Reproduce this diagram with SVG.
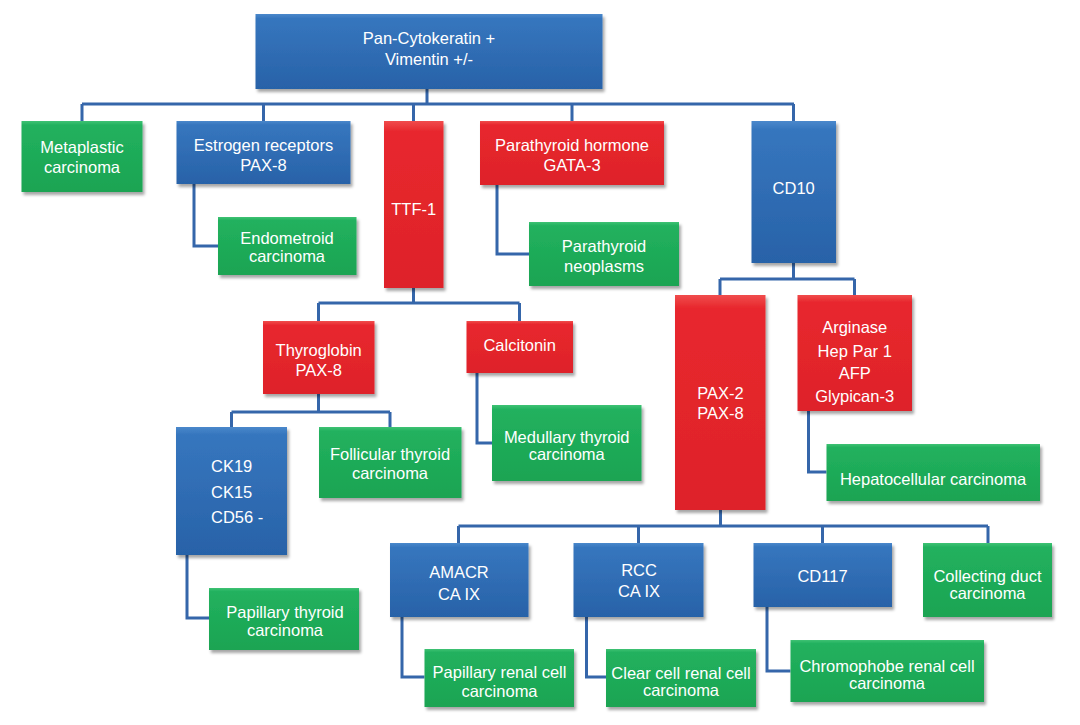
<svg xmlns="http://www.w3.org/2000/svg" width="1080" height="725" viewBox="0 0 1080 725">
<style>
.n rect{filter:url(#sh)}
.blue rect{fill:url(#gb)}
.red rect{fill:url(#gr)}
.green rect{fill:url(#gg)}
.hl{fill:none;stroke:#ffffff;stroke-opacity:0.28;stroke-width:2}
text{font-family:"Liberation Sans",Arial,Helvetica,sans-serif;font-size:16.5px;fill:#ffffff;text-anchor:middle}
.c path{fill:none;stroke:#3566AA;stroke-width:3;stroke-linejoin:miter;stroke-linecap:butt}
</style>
<defs>
<filter id="sh" x="-10%" y="-10%" width="125%" height="130%">
<feDropShadow dx="2" dy="3" stdDeviation="1.8" flood-color="#000" flood-opacity="0.35"/>
</filter>
<linearGradient id="gb" x1="0" y1="0" x2="0" y2="1">
<stop offset="0" stop-color="#4A88CB"/>
<stop offset="0.06" stop-color="#3676BE"/>
<stop offset="1" stop-color="#2862A8"/>
</linearGradient>
<linearGradient id="gr" x1="0" y1="0" x2="0" y2="1">
<stop offset="0" stop-color="#F04C4C"/>
<stop offset="0.06" stop-color="#E8282E"/>
<stop offset="1" stop-color="#DE2229"/>
</linearGradient>
<linearGradient id="gg" x1="0" y1="0" x2="0" y2="1">
<stop offset="0" stop-color="#3EC274"/>
<stop offset="0.06" stop-color="#22B15E"/>
<stop offset="1" stop-color="#1AA452"/>
</linearGradient>
</defs>
<rect width="1080" height="725" fill="#ffffff"/>

<g class="c" id="connectors">
<path d="M427 89V104M82 104H794M82 104V121M263.5 104V121M413.5 104V121M572 104V121M793.5 104V121"/>
<path d="M194 184V246H218"/>
<path d="M497 185V254H529"/>
<path d="M413.5 288V303M318.5 303H519.5M318.5 303V321M519.5 303V321"/>
<path d="M318.5 394V412M231.5 412H390M231.5 412V427M390 412V427"/>
<path d="M477 373V443H492"/>
<path d="M187 555V618H209"/>
<path d="M793.5 263V279M720 279H854.5M720 279V295M854.5 279V295"/>
<path d="M808.5 411V472H826.5"/>
<path d="M720.5 510V526M458.5 526H988M458.5 526V543M638.5 526V543M822.5 526V543M988 526V543"/>
<path d="M402 617V677H424.5"/>
<path d="M586.5 617V677H606"/>
<path d="M767 607V671H790.5"/>
</g>

<g id="root" class="n blue"><rect x="255.5" y="14" width="347" height="75"/><text x="429" y="44">Pan-Cytokeratin +</text><text x="429" y="65">Vimentin +/-</text></g>
<g id="metaplastic" class="n green"><rect x="21.5" y="121" width="121" height="71"/><text x="82" y="153">Metaplastic</text><text x="82" y="173">carcinoma</text></g>
<g id="estrogen" class="n blue"><rect x="176.5" y="121" width="174" height="63"/><text x="263.5" y="151">Estrogen receptors</text><text x="263.5" y="171">PAX-8</text></g>
<g id="ttf1" class="n red"><rect x="384" y="121" width="59.5" height="167"/><text x="413.7" y="215">TTF-1</text></g>
<g id="parathyroid-hormone" class="n red"><rect x="480" y="121" width="184" height="64"/><text x="572" y="151">Parathyroid hormone</text><text x="572" y="171">GATA-3</text></g>
<g id="cd10" class="n blue"><rect x="751.5" y="121" width="84.5" height="142"/><text x="793.7" y="194">CD10</text></g>
<g id="endometroid" class="n green"><rect x="218" y="217" width="138.5" height="58"/><text x="287" y="244">Endometroid</text><text x="287" y="262">carcinoma</text></g>
<g id="parathyroid-neoplasms" class="n green"><rect x="529" y="222" width="150" height="64"/><text x="604" y="252">Parathyroid</text><text x="604" y="272">neoplasms</text></g>
<g id="thyroglobin" class="n red"><rect x="263" y="321" width="111.5" height="73"/><text x="318.7" y="356">Thyroglobin</text><text x="318.7" y="376">PAX-8</text></g>
<g id="calcitonin" class="n red"><rect x="466.5" y="321" width="106.5" height="52"/><text x="519.7" y="351">Calcitonin</text></g>
<g id="pax2" class="n red"><rect x="675" y="295" width="90.5" height="215"/><text x="720.5" y="399">PAX-2</text><text x="720.5" y="419">PAX-8</text></g>
<g id="arginase" class="n red"><rect x="797.5" y="295" width="114.5" height="116"/><text x="854.7" y="333">Arginase</text><text x="854.7" y="357">Hep Par 1</text><text x="854.7" y="379">AFP</text><text x="854.7" y="402">Glypican-3</text></g>
<g id="ck19" class="n blue"><rect x="176" y="427" width="111" height="128"/><text x="211" y="472" style="text-anchor:start">CK19</text><text x="211" y="498" style="text-anchor:start">CK15</text><text x="211" y="523" style="text-anchor:start">CD56 -</text></g>
<g id="follicular" class="n green"><rect x="319" y="427" width="142.5" height="71"/><text x="390" y="460">Follicular thyroid</text><text x="390" y="479">carcinoma</text></g>
<g id="medullary" class="n green"><rect x="492" y="405" width="149.5" height="76"/><text x="566.7" y="443">Medullary thyroid</text><text x="566.7" y="460">carcinoma</text></g>
<g id="hepatocellular" class="n green"><rect x="826.5" y="444" width="213.5" height="57"/><text x="933" y="485">Hepatocellular carcinoma</text></g>
<g id="papillary-thyroid" class="n green"><rect x="209" y="588" width="150" height="62"/><text x="285" y="618">Papillary thyroid</text><text x="285" y="636">carcinoma</text></g>
<g id="amacr" class="n blue"><rect x="390" y="543" width="138.5" height="74"/><text x="459" y="578">AMACR</text><text x="459" y="600">CA IX</text></g>
<g id="rcc" class="n blue"><rect x="573.5" y="543" width="130" height="74"/><text x="639" y="576">RCC</text><text x="639" y="597">CA IX</text></g>
<g id="cd117" class="n blue"><rect x="753.5" y="543" width="138.5" height="64"/><text x="822.5" y="582">CD117</text></g>
<g id="collecting-duct" class="n green"><rect x="923" y="543" width="129" height="74"/><text x="987.5" y="582">Collecting duct</text><text x="987.5" y="599">carcinoma</text></g>
<g id="papillary-renal" class="n green"><rect x="424.5" y="649" width="149.5" height="58"/><text x="499.5" y="678">Papillary renal cell</text><text x="499.5" y="697">carcinoma</text></g>
<g id="clear-cell" class="n green"><rect x="606" y="649" width="150" height="58"/><text x="681" y="679">Clear cell renal cell</text><text x="681" y="696">carcinoma</text></g>
<g id="chromophobe" class="n green"><rect x="790.5" y="640" width="193.5" height="62"/><text x="887" y="672">Chromophobe renal cell</text><text x="887" y="689">carcinoma</text></g>
</svg>
